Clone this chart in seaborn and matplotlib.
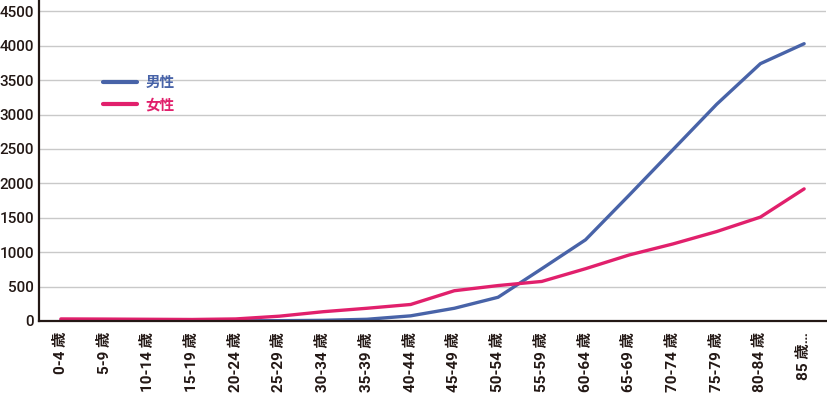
import seaborn as sns
import pandas as pd
import matplotlib.pyplot as plt
from matplotlib.ticker import FixedLocator

ages = ["0-4 歳", "5-9 歳", "10-14 歳", "15-19 歳", "20-24 歳", "25-29 歳",
        "30-34 歳", "35-39 歳", "40-44 歳", "45-49 歳", "50-54 歳", "55-59 歳",
        "60-64 歳", "65-69 歳", "70-74 歳", "75-79 歳", "80-84 歳", "85 歳…"]
male = [10, 5, 2, 2, 3, 5, 10, 25, 75, 185, 345, 760,
        1180, 1830, 2490, 3150, 3740, 4030]
female = [30, 28, 25, 22, 30, 70, 135, 185, 240, 440, 515, 575,
          760, 960, 1120, 1300, 1510, 1920]
series = ["男性", "女性"]
yticks = [0, 500, 1000, 1500, 2000, 2500, 3000, 3500, 4000, 4500]

df = pd.DataFrame({
    "age": ages + ages,
    "value": male + female,
    "sex": [series[0]] * len(ages) + [series[1]] * len(ages),
})

sns.set_style("white")
plt.rcParams["font.family"] = ["Roboto", "Noto Sans CJK JP", "DejaVu Sans"]

dark = "#231815"
fig = plt.figure(figsize=(8.28, 3.97), dpi=100)
ax = fig.add_axes([39 / 828, 76 / 397, 787 / 828, 321 / 397])

ax.set_axisbelow(True)
ax.grid(axis="y", color="#c9c9c9", linewidth=1)
ax.grid(axis="x", visible=False)

sns.lineplot(data=df, x="age", y="value", hue="sex", sort=False,
             palette={"男性": "#4863a8", "女性": "#e1206c"},
             linewidth=2.4, ax=ax)

ax.set_xlim(-0.5, len(ages) - 0.5)
ax.set_ylim(0, 4665)
ax.set_yticks(yticks)
ax.set_yticklabels([str(v) for v in yticks], fontsize=11, weight="medium",
                   color=dark)
ax.set_xticks(range(len(ages)))
ax.set_xticklabels(ages, rotation=90, ha="center", va="top", fontsize=11,
                   weight="bold", color=dark)
ax.xaxis.set_minor_locator(FixedLocator([i + 0.5 for i in range(len(ages))]))
ax.tick_params(axis="x", which="major", length=0, pad=8)
ax.tick_params(axis="x", which="minor", direction="in", length=5, width=1.3,
               color=dark)
ax.tick_params(axis="y", length=0, pad=3.5)
ax.set_xlabel("")
ax.set_ylabel("")

for s in ["top", "right"]:
    ax.spines[s].set_visible(False)
for s in ["left", "bottom"]:
    ax.spines[s].set_color(dark)
    ax.spines[s].set_linewidth(1.6)

handles, labels = ax.get_legend_handles_labels()
leg = ax.legend(handles, labels, loc="upper left",
                bbox_to_anchor=(64 / 787, 1 - 76 / 321), frameon=False,
                borderpad=0, borderaxespad=0, handlelength=2.35,
                handletextpad=0.55, labelspacing=0.55,
                prop={"size": 10.5, "weight": "bold"}, labelcolor="linecolor")
for line in leg.get_lines():
    line.set_linewidth(3)

fig.savefig("out.png", dpi=100)
